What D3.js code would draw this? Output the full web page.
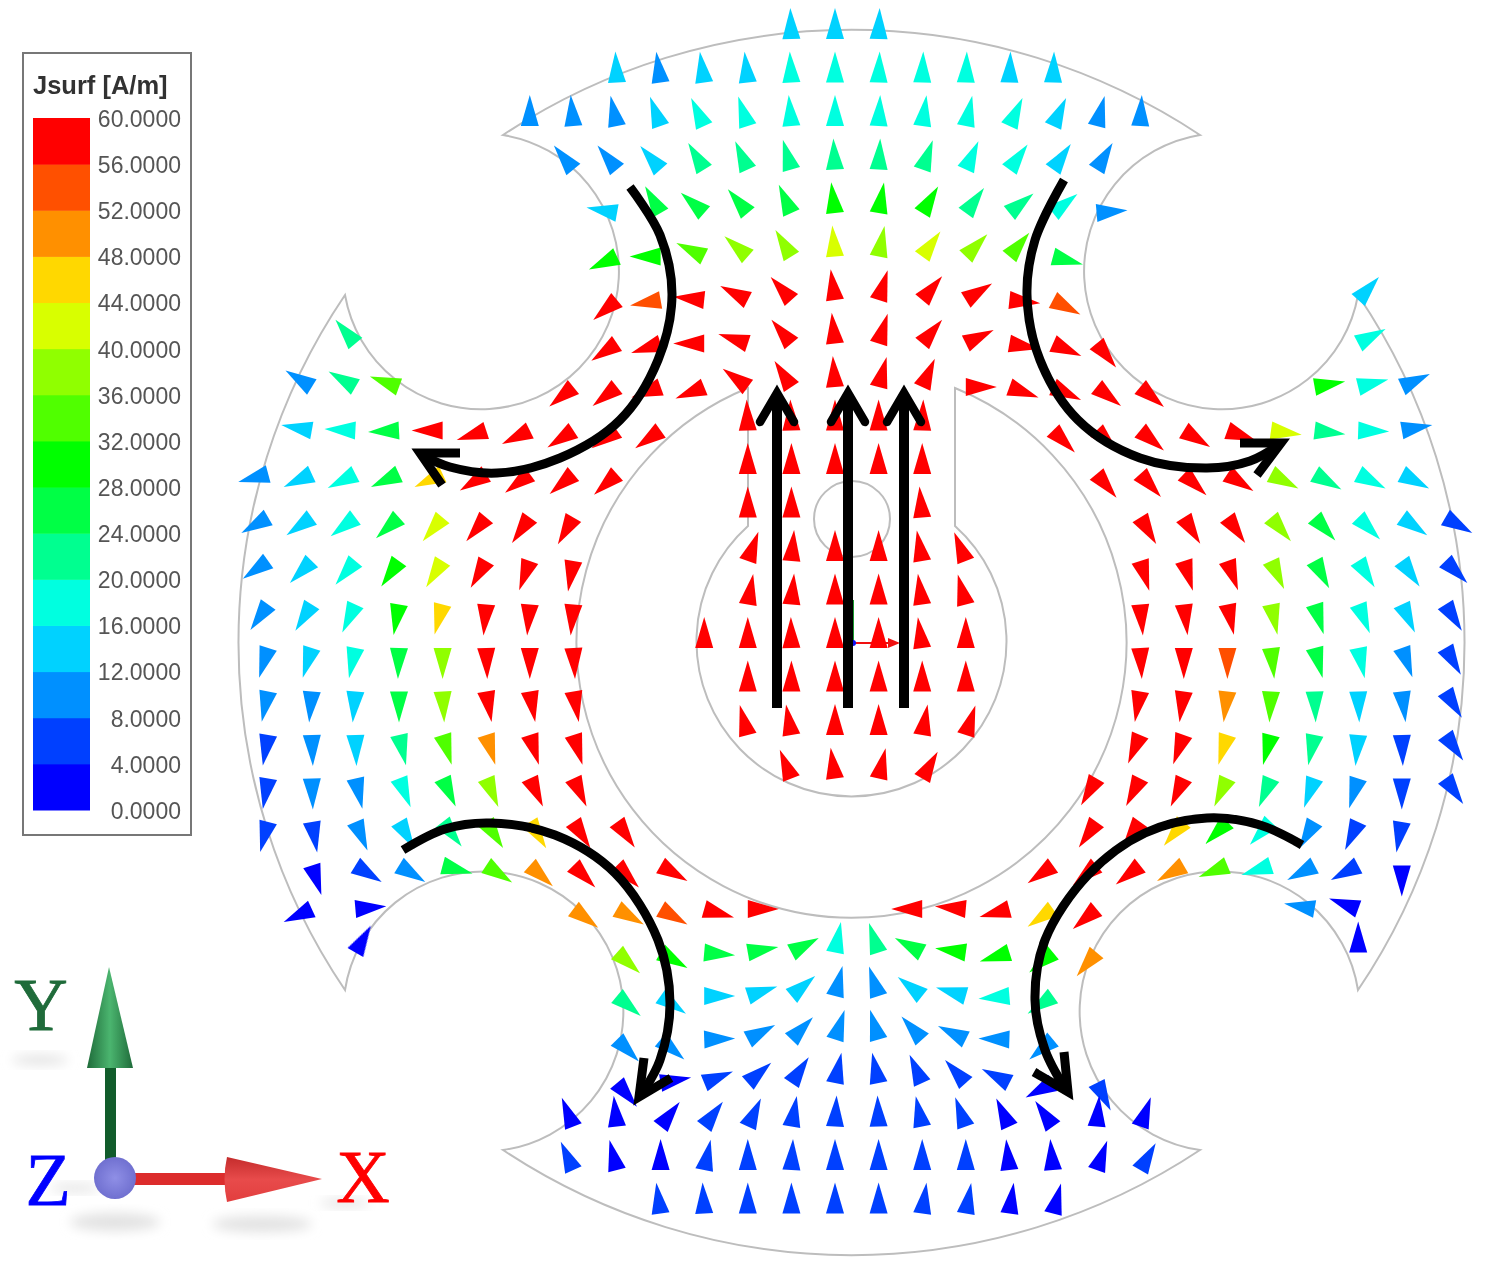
<!DOCTYPE html>
<html><head><meta charset="utf-8">
<style>html,body{margin:0;padding:0;background:#fff}svg{display:block}</style>
<script src="https://cdn.jsdelivr.net/npm/d3@7/dist/d3.min.js"></script>
</head><body><svg id="c" width="1490" height="1271"></svg>
<script>
// helper: pairs of first,last column index -> explicit column list
const span = (...p) => { const o = []; for (let i = 0; i < p.length; i += 2) o.push(...d3.range(p[i], p[i + 1] + 1)); return o; };
const legendTitle = "Jsurf [A/m]";
const legendTicks = [0,4,8,12,16,20,24,28,32,36,40,44,48,52,56,60];
const legendColors = ["#0000ff","#0040ff","#0090ff","#00d2ff","#00ffe0","#00ff90","#00ff45","#00ff00","#50ff00","#90ff00","#d8ff00","#ffd800","#ff9000","#ff5000","#ff0000"];

// Per grid row: column indices, |Jsurf| in A/m, direction in degrees (0 = +Y, clockwise)
const columns = [
 span(-1,1), span(-5,5), span(-7,7), span(-6,6), span(-5,6), span(-5,5),
 span(-5,5,12,12), span(-11,-11,-5,6,12,12), span(-12,-10,-6,7,11,13),
 span(-12,-4,-2,2,5,13), span(-13,-5,-2,2,6,13), [...span(-13,-6),-2,-1,2,...span(7,14)],
 span(-13,-6,-2,3,7,14), span(-13,-6,-2,3,7,14), span(-13,-6,-3,3,7,14), span(-13,-6,-2,3,7,14),
 span(-13,-6,-2,3,7,14), span(-13,-6,-1,2,6,14), span(-13,-5,6,13), span(-12,-4,5,13),
 [-12,-11,-6,-5,-4,-3,-2,2,3,4,5,6,11,12], span(-11,-11,-5,6,12,12), span(-5,5), span(-5,5),
 span(-5,6), span(-6,7), span(-6,7), span(-4,5)
];
const magnitudes = [
 [14,14,14],
 [14,10,14,14,18,18,18,18,18,14,14],
 [10,10,10,14,18,18,18,18,18,18,18,18,14,10,10],
 [10,10,14,22,22,22,22,22,22,18,18,14,10],
 [14,26,26,26,26,30,30,28,22,22,18,10],
 [30,30,34,38,38,42,38,42,38,34,26],
 [58,54,58,58,58,58,58,58,58,58,54,14],
 [22,58,58,58,58,58,58,58,58,58,58,58,58,18],
 [10,22,34,58,58,58,58,58,58,58,58,58,58,58,58,58,58,28,18,10],
 [14,18,26,58,58,58,58,58,58,58,58,58,58,58,58,58,58,58,58,42,22,18,10],
 [10,14,18,26,46,58,58,58,58,58,58,58,58,58,58,58,58,58,38,22,18,14],
 [10,14,18,26,42,58,58,58,58,58,58,58,58,58,38,26,18,14,6],
 [10,14,18,30,42,58,58,58,58,58,58,58,58,58,58,58,58,38,26,18,14,6],
 [10,14,18,30,46,58,58,58,58,58,58,58,58,58,58,58,58,38,26,18,14,6],
 [10,14,18,26,38,58,58,58,58,58,58,58,58,58,58,58,58,54,34,26,18,10,6],
 [10,10,14,26,38,58,58,58,58,58,58,58,58,58,58,58,50,34,22,14,10,6],
 [6,10,14,22,34,50,58,58,58,58,58,58,58,58,58,58,46,30,22,14,6,6],
 [6,10,10,18,26,38,58,58,58,58,58,58,58,58,58,38,22,14,10,6,6],
 [6,6,10,14,22,34,46,58,58,58,58,46,30,18,10,6,6],
 [2,6,10,26,34,50,58,58,58,58,58,58,50,34,18,10,6,2],
 [2,2,50,50,54,58,58,58,58,58,46,58,10,2],
 [2,38,28,26,26,26,18,22,26,28,30,30,50,2],
 [22,14,14,14,14,10,10,14,14,18,22],
 [10,10,10,10,10,10,10,10,10,10,10],
 [2,2,6,6,6,6,6,6,6,6,2,6],
 [2,2,2,6,6,6,6,6,6,6,2,2,2,2],
 [6,2,2,6,6,6,6,6,6,6,2,2,2,6],
 [6,6,6,6,6,6,6,6,2,2]
];
const directions = [
 [-2,0,2],
 [-3,-8,-8,-6,-3,0,2,2,2,2,2],
 [0,-5,-12,-20,-25,-18,-5,0,3,8,12,25,25,15,3],
 [-39,-39,-41,-31,-24,-16,-3,3,20,24,36,35,31],
 [-80,-30,-49,-40,-24,-7,10,31,36,51,52,85],
 [-115,-90,-64,-49,-31,-5,11,36,44,40,105],
 [-130,-100,-84,-63,-42,-8,17,40,58,96,118,42],
 [-40,-124,-108,-90,-72,-40,-6,17,40,64,100,114,141,62],
 [-58,-60,-70,-129,-128,-110,-112,-54,-33,-4,15,24,90,110,115,128,130,80,76,65],
 [-80,-87,-93,-90,-108,-116,-123,-125,-125,-2,-2,0,0,2,135,135,130,122,110,98,97,92,80],
 [-105,-115,-117,-115,-115,-122,-127,-130,-132,0,0,0,0,0,140,138,133,123,118,120,118,118],
 [-120,-125,-127,-132,-140,-140,-145,-150,0,0,-5,149,148,145,140,138,135,125,120],
 [-125,-135,-140,-145,-148,-150,-160,-170,20,5,0,0,-10,-22,163,163,160,155,152,148,145,135],
 [-145,-148,-155,-170,-165,-175,-175,-175,10,5,0,0,-8,-15,175,173,168,168,163,158,155,148],
 [-163,-163,-168,-178,180,178,180,177,0,0,-1,0,0,-8,0,177,180,180,174,165,168,160,150],
 [-168,-175,-175,180,177,170,170,170,0,0,0,0,0,0,-170,-172,-173,-177,178,178,173,148],
 [-170,178,178,167,163,163,163,163,-15,-10,0,0,10,18,-157,-160,-163,-165,-168,-175,178,145],
 [-170,178,167,158,155,157,155,155,-22,-8,13,30,-150,-153,-155,-155,-157,-160,-163,180,145],
 [-165,170,157,150,142,147,148,147,145,-145,-145,-140,-135,-137,-150,-155,-170],
 [162,122,122,105,123,132,135,135,120,-125,-130,-128,-120,-112,-108,-118,-118,180],
 [-115,85,127,120,120,106,90,-90,-85,-105,-125,-130,-80,-70],
 [30,132,120,95,80,62,11,-18,-62,-82,-107,-130,-140,0],
 [130,125,90,72,50,14,-18,-52,-74,-95,-125],
 [135,130,88,62,44,18,-16,-42,-64,-88,-130],
 [140,80,68,49,34,12,-12,-24,-42,-63,-118,153],
 [-22,-6,38,37,25,10,3,-2,-12,-20,-25,-35,5,20],
 [-24,-14,0,12,0,3,0,0,0,0,-6,-5,20,30],
 [-8,-3,0,0,0,0,8,10,8,15]
];

const svg = d3.select("#c");
const x = d3.scaleLinear().domain([-14,14]).range([835-14*43.6, 835+14*43.6]);
const y = d3.scaleLinear().domain([0,27]).range([39, 39+27*43.5]);
const color = d3.scaleQuantize().domain([0,60]).range(legendColors);
const defs = svg.append("defs");
const blur = (id, s) => defs.append("filter").attr("id", id).attr("x","-50%").attr("y","-50%").attr("width","200%").attr("height","200%")
  .append("feGaussianBlur").attr("stdDeviation", s);
blur("soft",0.6); blur("shadow",6); blur("textsoft",0.35);
const grad = (id, stops, x2, y2) => { const g = defs.append("linearGradient").attr("id", id).attr("x1",0).attr("y1",0).attr("x2",x2).attr("y2",y2);
  stops.forEach(([o,c]) => g.append("stop").attr("offset",o).attr("stop-color",c)); };
grad("gy",[[0,"#1f6b3a"],[.5,"#4bb56f"],[1,"#1f6b3a"]],1,0);
grad("gx",[[0,"#c42c2c"],[.5,"#e84b4b"],[1,"#e23e3e"]],0,1);
const rg = defs.append("radialGradient").attr("id","gz");
rg.append("stop").attr("offset",0).attr("stop-color","#8f8fe6");
rg.append("stop").attr("offset",1).attr("stop-color","#7070d0");

// part outline
const outline = [
 "M503,135 A630,630 0 0 1 1200,135 A138,138 0 1 0 1358,295 A620,620 0 0 1 1358,990",
 "A140,140 0 1 0 1200,1150 A630,630 0 0 1 503,1150 A140,140 0 1 0 345,990 A620,620 0 0 1 345,295 A138,138 0 1 0 503,135 Z",
 "M748,388 A275,275 0 1 0 955,388 L955,526 A155,155 0 1 1 748,526 Z",
 "M814,519 a38,38 0 1 0 76,0 a38,38 0 1 0 -76,0 Z"
].join(" ");
svg.append("path").attr("d",outline).attr("fill","none").attr("stroke","#bdbdbd").attr("stroke-width",2);

// small coordinate marker at the centre
const mini = svg.append("g");
mini.append("line").attr("x1",853).attr("y1",643).attr("x2",853).attr("y2",600).attr("stroke","#1a9a30").attr("stroke-width",2);
mini.append("line").attr("x1",853).attr("y1",643).attr("x2",898).attr("y2",643).attr("stroke","#f01010").attr("stroke-width",2);
mini.append("path").attr("d","M888,638 L900,643 L888,648 Z").attr("fill","#f01010");
mini.append("circle").attr("cx",853).attr("cy",643).attr("r",3).attr("fill","#1010f0");

// vector field
const cells = [];
columns.forEach((cs, r) => cs.forEach((c, i) => cells.push({r, c, v: magnitudes[r][i], a: directions[r][i]})));
svg.append("g").attr("filter","url(#soft)").selectAll("path").data(cells).join("path")
  .attr("d","M0,-31 L9,0 L-9,0 Z")
  .attr("transform", d => `translate(${x(d.c)},${y(d.r)}) rotate(${d.a})`)
  .attr("fill", d => color(d.v));

// current-path overlays (black)
const pathTL = [[630,187],[660,235],[672,295],[658,360],[620,420],[560,458],[497,473],[450,467],[422,455]];
const pathTR = [[1064,180],[1035,240],[1027,295],[1040,360],[1078,420],[1140,458],[1207,468],[1250,461],[1279,445]];
const pathBL = [[403,850],[445,829],[490,823],[555,835],[615,873],[658,940],[670,1003],[660,1060],[641,1095]];
const pathBR = [[1302,845],[1260,825],[1207,818],[1145,833],[1088,875],[1045,940],[1035,1000],[1045,1050],[1066,1090]];
const barbs = [
 [[460,453],[420,453],[442,485]],
 [[1240,443],[1281,443],[1257,475]],
 [[644,1058],[639,1097],[671,1078]],
 [[1064,1052],[1068,1092],[1034,1072]]
];
const straightX = [777,848,904];
const straightY = [708,394];
const black = svg.append("g").attr("fill","none").attr("stroke","#000");
const curve = d3.line().curve(d3.curveCatmullRom.alpha(0.5));
[pathTL,pathTR,pathBL,pathBR].forEach(p => black.append("path").attr("d",curve(p)).attr("stroke-width",9));
const poly = d3.line();
barbs.forEach(b => black.append("path").attr("d",poly(b)).attr("stroke-width",9).attr("stroke-linejoin","miter"));
straightX.forEach(sx => {
  black.append("path").attr("d",poly([[sx,straightY[0]],[sx,straightY[1]]])).attr("stroke-width",10);
  black.append("path").attr("d",poly([[sx-17,422],[sx,393],[sx+17,422]])).attr("stroke-width",8.5).attr("stroke-linecap","round");
});

// legend
const lg = svg.append("g");
lg.append("rect").attr("x",23).attr("y",53).attr("width",168).attr("height",782).attr("fill","#fff").attr("stroke","#777").attr("stroke-width",2);
lg.append("text").attr("x",33).attr("y",94).attr("font-family","Liberation Sans").attr("font-weight","bold").attr("font-size",25.5).attr("fill","#333").text(legendTitle).attr("filter","url(#textsoft)");
const ly = d3.scaleLinear().domain([0,60]).range([810,118]);
lg.selectAll(".bin").data(legendColors).join("rect").attr("class","bin")
  .attr("x",33).attr("width",57).attr("y",(d,i)=>ly(legendTicks[i+1])).attr("height",(d,i)=>ly(legendTicks[i])-ly(legendTicks[i+1])+0.5).attr("fill",d=>d);
const ax = lg.append("g").attr("transform","translate(181,1)")
  .call(d3.axisRight(ly).tickValues(legendTicks).tickFormat(d3.format(".4f")).tickSize(0).tickPadding(0));
ax.select(".domain").remove();
ax.selectAll("text").attr("text-anchor","end").attr("font-family","Liberation Sans").attr("font-size",23).attr("fill","#555").attr("filter","url(#textsoft)");

// triad
const t = svg.append("g");
[[40,1060,28,5],[115,1222,45,9],[262,1224,50,8],[75,1188,25,4],[345,1203,25,4]].forEach(([cx,cy,rx,ry]) =>
  t.append("ellipse").attr("cx",cx).attr("cy",cy).attr("rx",rx).attr("ry",ry).attr("fill","#e2e2e2").attr("filter","url(#shadow)"));
t.append("rect").attr("x",105).attr("y",1066).attr("width",11).attr("height",95).attr("fill","#115c2b");
t.append("path").attr("d","M109,967 L133,1068 L87,1068 Z").attr("fill","url(#gy)");
t.append("rect").attr("x",130).attr("y",1173).attr("width",100).attr("height",12).attr("fill","#dc2c2c");
t.append("path").attr("d","M322,1179 L227,1202 Q222,1179 227,1157 Z").attr("fill","url(#gx)");
t.append("circle").attr("cx",115).attr("cy",1178).attr("r",21).attr("fill","url(#gz)");
const serif = {"font-family":"Liberation Serif","font-size":74};
[["Y",41,1030,"#1f6b3a"],["Z",48,1205,"#0000ff"],["X",363,1202,"#ff0000"]].forEach(([s,tx,ty,c]) => {
  const e = t.append("text").attr("x",tx).attr("y",ty).attr("text-anchor","middle").attr("fill",c).attr("stroke",c).attr("stroke-width",0.8).text(s);
  Object.entries(serif).forEach(([k,v]) => e.attr(k,v));
});
</script></body></html>
